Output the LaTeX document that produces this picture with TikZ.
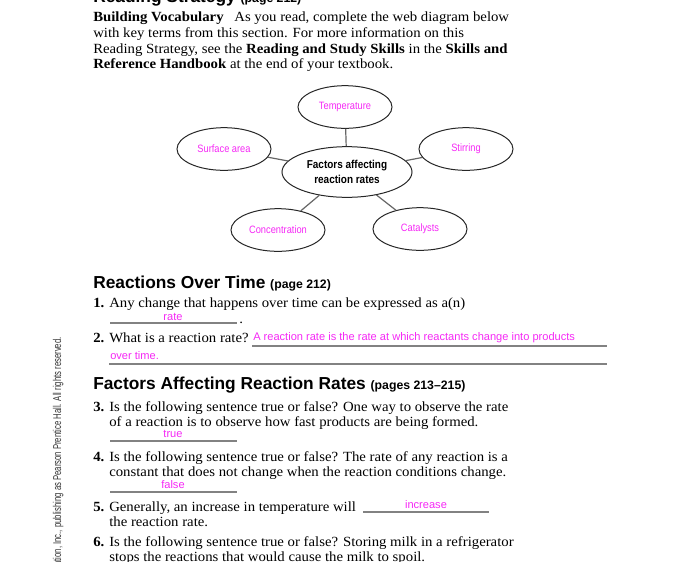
\documentclass[tikz,border=0pt]{standalone}
\usepackage{fontspec}
\setmainfont[FakeStretch=1.055]{Liberation Serif}
\setsansfont{Liberation Sans}
\newfontfamily\narrowsf[FakeStretch=0.87]{Liberation Sans}
\newfontfamily\condsf[FakeStretch=0.68]{Liberation Sans}
\usetikzlibrary{shapes.geometric}
\definecolor{ans}{RGB}{245,40,245}
\definecolor{rulegray}{RGB}{130,130,130}
\begin{document}
\begin{tikzpicture}[x=0.75pt,y=-0.75pt,
  txt/.style={anchor=base west, inner sep=0pt, font=\fontsize{10.5}{12}\selectfont},
  num/.style={anchor=base west, inner sep=0pt, font=\fontsize{10.5}{12}\selectfont\bfseries},
  head/.style={anchor=base west, inner sep=0pt, font=\fontsize{13}{15}\selectfont\sffamily\bfseries},
  ansr/.style={anchor=base, inner sep=0pt, text=ans, font=\fontsize{8.3}{9}\selectfont\sffamily},
  blank/.style={draw=rulegray, line width=0.9pt},
  bub/.style={ellipse, draw=black!85, line width=0.75pt, minimum width=70.5pt, minimum height=32pt, inner sep=0pt, text=ans, font=\fontsize{8}{9}\selectfont\narrowsf},
  link/.style={draw=black!60, line width=0.9pt}]
\useasboundingbox (0,0) rectangle (700,561);
\clip (0,0) rectangle (700,561);

% header
\node[head] (h0) at (93,2) {Reading Strategy {\fontsize{9.2}{10}\selectfont (page 212)}};
\node[txt] (p1) at (93,21) {\textbf{Building Vocabulary}\hspace{0.5em} As you read, complete the web diagram below};
\node[txt] (p2) at (93,37) {with key terms from this section. For more information on this};
\node[txt] (p3) at (93,53) {Reading Strategy, see the \textbf{Reading and Study Skills} in the \textbf{Skills and}};
\node[txt] (p4) at (93,68) {\textbf{Reference Handbook} at the end of your textbook.};

% web diagram
\node[bub, minimum width=97.5pt, minimum height=38pt, text=black, font=\fontsize{8.6}{10.7}\selectfont\narrowsf\bfseries, align=center] (ctr) at (347,172) {Factors affecting\\reaction rates};
\node[bub] (temp) at (345,107) {Temperature};
\node[bub] (surf) at (224,149) {Surface area};
\node[bub] (stir) at (466,149) {Stirring};
\node[bub] (conc) at (278,230) {Concentration};
\node[bub] (cata) at (420,229) {Catalysts};
\draw[link] (ctr) -- (temp);
\draw[link] (ctr) -- (surf);
\draw[link] (ctr) -- (stir);
\draw[link] (ctr) -- (conc);
\draw[link] (ctr) -- (cata);

% Reactions over time
\node[head] (h1) at (93,288) {Reactions Over Time {\fontsize{9.2}{10}\selectfont (page 212)}};
\node[num] (n1) at (93,307) {1.};
\node[txt] (q1) at (109,307) {Any change that happens over time can be expressed as a(n)};
\draw[blank] (110,323) -- (237,323);
\node[txt] (q1dot) at (239,323) {.};
\node[ansr] (a1) at (173,320) {rate};

\node[num] (n2) at (93,342) {2.};
\node[txt] (q2) at (109,342) {What is a reaction rate?};
\draw[blank] (252,346) -- (607,346);
\node[ansr, anchor=base west] (a2) at (253,340) {A reaction rate is the rate at which reactants change into products};
\node[ansr, anchor=base west] (a2b) at (110,359) {over time.};
\draw[blank] (109,364) -- (607,364);

% Factors affecting reaction rates
\node[head] (h2) at (93,389) {Factors Affecting Reaction Rates {\fontsize{9.2}{10}\selectfont (pages 213--215)}};
\node[num] (n3) at (93,411) {3.};
\node[txt] (q3a) at (109,411) {Is the following sentence true or false? One way to observe the rate};
\node[txt] (q3b) at (109,426) {of a reaction is to observe how fast products are being formed.};
\draw[blank] (110,441) -- (237,441);
\node[ansr] (a3) at (173,437) {true};

\node[num] (n4) at (93,461) {4.};
\node[txt] (q4a) at (109,461) {Is the following sentence true or false? The rate of any reaction is a};
\node[txt] (q4b) at (109,476) {constant that does not change when the reaction conditions change.};
\draw[blank] (110,492) -- (237,492);
\node[ansr] (a4) at (173,488) {false};

\node[num] (n5) at (93,511) {5.};
\node[txt] (q5a) at (109,511) {Generally, an increase in temperature will};
\draw[blank] (363,512) -- (489,512);
\node[ansr] (a5) at (426,508) {increase};
\node[txt] (q5b) at (109,526) {the reaction rate.};

\node[num] (n6) at (93,546) {6.};
\node[txt] (q6a) at (109,546) {Is the following sentence true or false? Storing milk in a refrigerator};
\node[txt] (q6b) at (109,561) {stops the reactions that would cause the milk to spoil.};

% margin copyright
\node[rotate=90, anchor=base east, inner sep=0pt, text=black!80, font=\fontsize{8.5}{9}\selectfont\condsf] (copy) at (61,337) {\copyright\ Pearson Education, Inc., publishing as Pearson Prentice Hall. All rights reserved.};
\end{tikzpicture}
\end{document}
